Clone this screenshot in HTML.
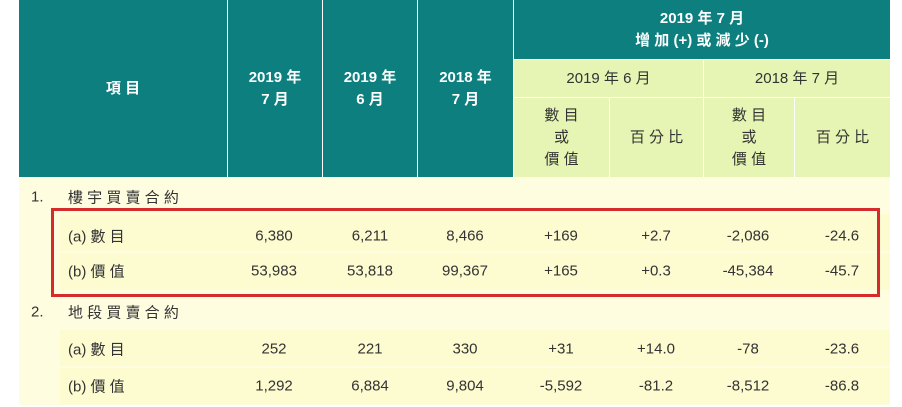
<!DOCTYPE html>
<html><head><meta charset="utf-8">
<style>
body{margin:0;width:902px;height:407px;background:#fff;position:relative;overflow:hidden;font-family:"Liberation Sans","Noto Sans CJK TC",sans-serif;}
.a{position:absolute;box-sizing:border-box;}
.h{background:#0d7f7f;color:#fff;font-weight:bold;font-size:15px;display:flex;align-items:center;justify-content:center;text-align:center;line-height:22px;}
.s{background:#e6f5b4;color:#333;font-size:15px;display:flex;align-items:center;justify-content:center;text-align:center;line-height:22px;}
.t{font-size:15px;color:#333;position:absolute;transform:translate(-50%,-50%);white-space:nowrap}
.l{font-size:15px;color:#333;position:absolute;transform:translateY(-50%);white-space:nowrap;}
.c{position:absolute;background:#fdfbd0;}
</style></head><body>
<div class="a" style="left:19px;top:177px;width:871px;height:228px;background:#fffde0"></div>
<div class="a h" style="left:19px;top:0;width:208px;height:177px">項 目</div>
<div class="a h" style="left:228px;top:0;width:94px;height:177px">2019 年<br>7 月</div>
<div class="a h" style="left:323px;top:0;width:94px;height:177px">2019 年<br>6 月</div>
<div class="a h" style="left:418px;top:0;width:95px;height:177px">2018 年<br>7 月</div>
<div class="a h" style="left:514px;top:0;width:376px;height:59px">2019 年 7 月<br>增 加 (+) 或 減 少 (-)</div>
<div class="a s" style="left:514px;top:60px;width:189px;height:37px">2019 年 6 月</div>
<div class="a s" style="left:704px;top:60px;width:186px;height:37px">2018 年 7 月</div>
<div class="a s" style="left:514px;top:98px;width:95px;height:79px">數 目<br>或<br>價 值</div>
<div class="a s" style="left:610px;top:98px;width:93px;height:79px">百 分 比</div>
<div class="a s" style="left:704px;top:98px;width:90px;height:79px">數 目<br>或<br>價 值</div>
<div class="a s" style="left:795px;top:98px;width:95px;height:79px">百 分 比</div>
<div class="c" style="left:60px;top:214px;width:830px;height:37px"></div>
<div class="c" style="left:60px;top:253px;width:830px;height:37px"></div>
<div class="c" style="left:60px;top:330px;width:830px;height:36px"></div>
<div class="c" style="left:60px;top:368px;width:830px;height:36px"></div>
<div class="l" style="left:31px;top:197px">1.</div>
<div class="l" style="left:68px;top:197px">樓 宇 買 賣 合 約</div>
<div class="l" style="left:31px;top:312px">2.</div>
<div class="l" style="left:68px;top:312px">地 段 買 賣 合 約</div>
<div class="l" style="left:68px;top:236px">(a) 數 目</div>
<div class="l" style="left:68px;top:271px">(b) 價 值</div>
<div class="l" style="left:68px;top:349px">(a) 數 目</div>
<div class="l" style="left:68px;top:386px">(b) 價 值</div>
<div class="t" style="left:274px;top:236px">6,380</div><div class="t" style="left:370px;top:236px">6,211</div><div class="t" style="left:465px;top:236px">8,466</div><div class="t" style="left:561px;top:236px">+169</div><div class="t" style="left:656px;top:236px">+2.7</div><div class="t" style="left:748px;top:236px">-2,086</div><div class="t" style="left:842px;top:236px">-24.6</div>
<div class="t" style="left:274px;top:271px">53,983</div><div class="t" style="left:370px;top:271px">53,818</div><div class="t" style="left:465px;top:271px">99,367</div><div class="t" style="left:561px;top:271px">+165</div><div class="t" style="left:656px;top:271px">+0.3</div><div class="t" style="left:748px;top:271px">-45,384</div><div class="t" style="left:842px;top:271px">-45.7</div>
<div class="t" style="left:274px;top:349px">252</div><div class="t" style="left:370px;top:349px">221</div><div class="t" style="left:465px;top:349px">330</div><div class="t" style="left:561px;top:349px">+31</div><div class="t" style="left:656px;top:349px">+14.0</div><div class="t" style="left:748px;top:349px">-78</div><div class="t" style="left:842px;top:349px">-23.6</div>
<div class="t" style="left:274px;top:386px">1,292</div><div class="t" style="left:370px;top:386px">6,884</div><div class="t" style="left:465px;top:386px">9,804</div><div class="t" style="left:561px;top:386px">-5,592</div><div class="t" style="left:656px;top:386px">-81.2</div><div class="t" style="left:748px;top:386px">-8,512</div><div class="t" style="left:842px;top:386px">-86.8</div>
<div class="a" style="left:51px;top:208px;width:829px;height:89px;border:3px solid #d52b2b"></div>
</body></html>
